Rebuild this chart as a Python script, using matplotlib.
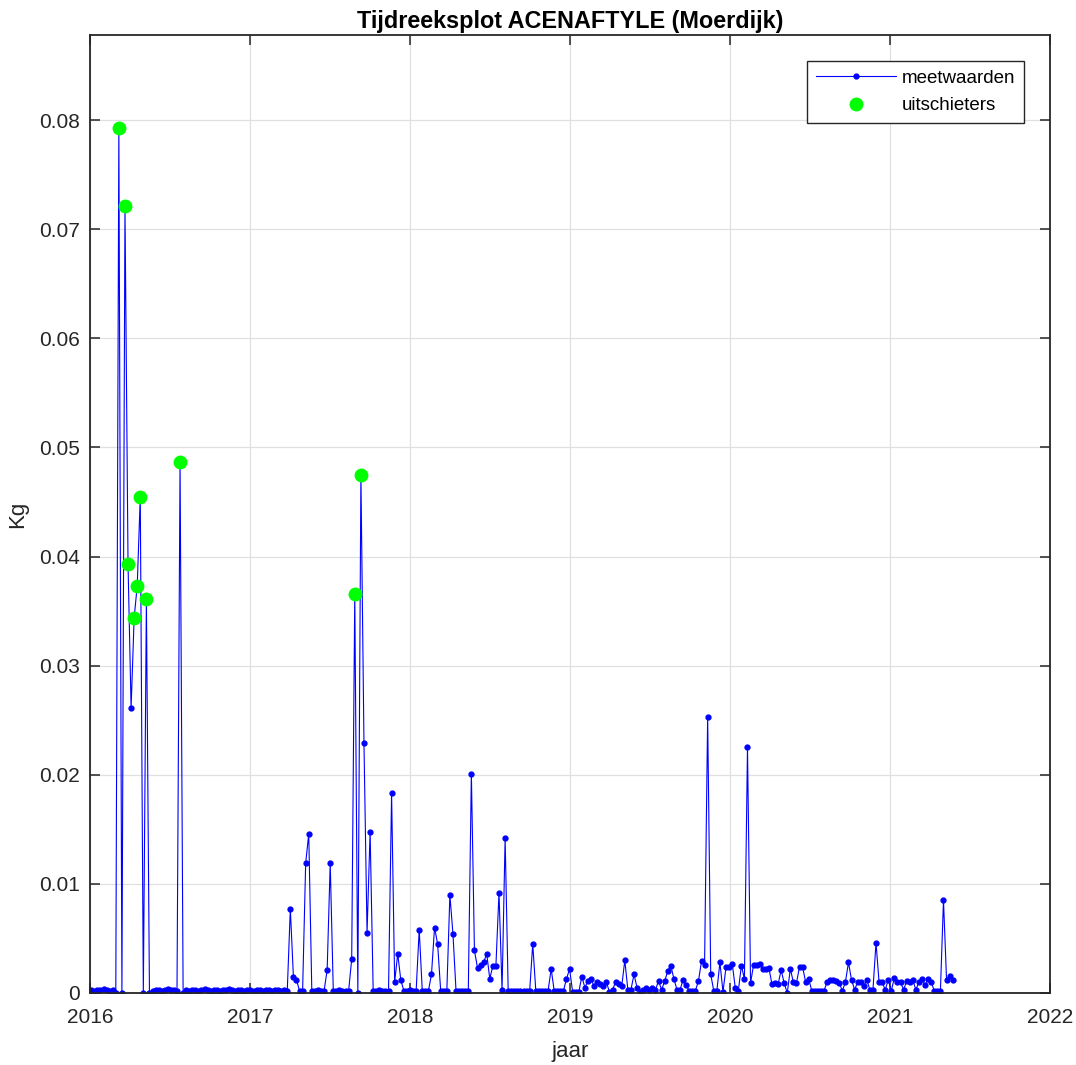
import numpy as np
import pandas as pd
import matplotlib
matplotlib.use('Agg')
import matplotlib.pyplot as plt
from matplotlib.ticker import FuncFormatter

# weekly measurements (Kg), first sample in week of 2016-01-04
start_datum = '2016-01-04'

waarden_2016 = [0.0003, 0.0002, 0.0003, 0.0003, 0.0004, 0.0003, 0.0002, 0.0003, 0.0000, 0.0793,
                0.0000, 0.0721, 0.0393, 0.0261, 0.0344, 0.0373, 0.0455, 0.0000, 0.0361, 0.0000,
                0.0002, 0.0003, 0.0003, 0.0002, 0.0003, 0.0004, 0.0003, 0.0003, 0.0002, 0.0487,
                0.0000, 0.0003, 0.0002, 0.0003, 0.0003, 0.0002, 0.0003, 0.0004, 0.0003, 0.0002,
                0.0003, 0.0003, 0.0002, 0.0003, 0.0003, 0.0004, 0.0003, 0.0002, 0.0003, 0.0003,
                0.0002, 0.0003]
waarden_2017 = [0.0003, 0.0002, 0.0003, 0.0003, 0.0002, 0.0003, 0.0003, 0.0002,
                0.0003, 0.0003, 0.0002, 0.0003, 0.0002, 0.0077, 0.0015, 0.0012, 0.0002, 0.0002,
                0.0119, 0.0146, 0.0002, 0.0002, 0.0003, 0.0002, 0.0002, 0.0021, 0.0119, 0.0002,
                0.0002, 0.0003, 0.0002, 0.0002, 0.0002, 0.0031, 0.0366, 0.0000, 0.0475, 0.0229,
                0.0055, 0.0148, 0.0002, 0.0002, 0.0003, 0.0002, 0.0002, 0.0002, 0.0183, 0.0010,
                0.0036, 0.0012, 0.0002, 0.0002]
waarden_2018 = [0.0003, 0.0002, 0.0002, 0.0058, 0.0002, 0.0002,
                0.0002, 0.0017, 0.0060, 0.0045, 0.0002, 0.0002, 0.0002, 0.0090, 0.0054, 0.0002,
                0.0002, 0.0002, 0.0002, 0.0002, 0.0201, 0.0039, 0.0023, 0.0026, 0.0028, 0.0036,
                0.0013, 0.0025, 0.0025, 0.0092, 0.0003, 0.0142, 0.0002, 0.0002, 0.0002, 0.0002,
                0.0002, 0.0002, 0.0002, 0.0002, 0.0045, 0.0002, 0.0002, 0.0002, 0.0002, 0.0002,
                0.0022, 0.0002, 0.0002, 0.0002, 0.0002, 0.0013, 0.0022]
waarden_2019 = [0.0001, 0.0001, 0.0001,
                0.0015, 0.0005, 0.0011, 0.0013, 0.0006, 0.0010, 0.0008, 0.0006, 0.0010, 0.0001,
                0.0003, 0.0010, 0.0008, 0.0006, 0.0030, 0.0003, 0.0003, 0.0017, 0.0005, 0.0001,
                0.0003, 0.0005, 0.0003, 0.0005, 0.0003, 0.0011, 0.0003, 0.0011, 0.0020, 0.0025,
                0.0013, 0.0003, 0.0003, 0.0012, 0.0007, 0.0002, 0.0002, 0.0002, 0.0011, 0.0029,
                0.0026, 0.0253, 0.0017, 0.0002, 0.0002, 0.0028, 0.0001, 0.0024, 0.0024]
waarden_2020 = [0.0027,
                0.0005, 0.0002, 0.0025, 0.0013, 0.0225, 0.0009, 0.0026, 0.0026, 0.0027, 0.0022,
                0.0022, 0.0023, 0.0008, 0.0009, 0.0008, 0.0021, 0.0009, 0.0000, 0.0022, 0.0010,
                0.0009, 0.0024, 0.0024, 0.0010, 0.0013, 0.0002, 0.0002, 0.0002, 0.0002, 0.0002,
                0.0010, 0.0012, 0.0012, 0.0011, 0.0009, 0.0002, 0.0010, 0.0028, 0.0012, 0.0003,
                0.0010, 0.0010, 0.0006, 0.0012, 0.0003, 0.0003, 0.0046, 0.0010, 0.0010, 0.0003,
                0.0012]
waarden_2021 = [0.0002, 0.0014, 0.0010, 0.0010, 0.0003, 0.0011, 0.0010, 0.0012, 0.0003,
                0.0010, 0.0013, 0.0007, 0.0013, 0.0010, 0.0002, 0.0002, 0.0002, 0.0085, 0.0012,
                0.0016, 0.0012]

# values flagged as outliers (green dots)
uitschieter_grens = 0.03

meet = np.array(waarden_2016 + waarden_2017 + waarden_2018 +
                waarden_2019 + waarden_2020 + waarden_2021)
datums = pd.date_range(start_datum, periods=len(meet), freq='7D')
jaar = datums.year + (datums.dayofyear - 1) / np.where(datums.is_leap_year, 366, 365)
jaar = np.asarray(jaar, dtype=float)
uit = meet > uitschieter_grens

plt.rcParams['font.family'] = ['Liberation Sans', 'DejaVu Sans']
fig = plt.figure(figsize=(10.76, 10.65), dpi=100)
ax = fig.add_axes([90/1076, 72/1065, 960/1076, 958/1065])

ax.plot(jaar, meet, '-', color=(0, 0, 1), lw=0.8, marker='o', ms=3.5,
        mec=(0, 0, 1), mfc=(0, 0, 1), label='meetwaarden')
ax.plot(jaar[uit], meet[uit], 'o', color=(0, 1, 0), ms=10, mec='none',
        label='uitschieters')

ax.set_xlim(2016, 2022)
ax.set_ylim(0, 0.0878)
ax.set_xticks(np.arange(2016, 2023, 1))
ax.set_yticks(np.arange(0, 0.081, 0.01))
ax.yaxis.set_major_formatter(FuncFormatter(lambda v, p: '%g' % round(v, 4)))

ax.grid(True, color='#e0e0e0', lw=0.9)
ax.set_axisbelow(True)
dark = (0.15, 0.15, 0.15)
for s in ax.spines.values():
    s.set_color(dark)
    s.set_linewidth(1.3)
ax.tick_params(direction='in', length=7, width=1.1, colors=dark, labelsize=15,
               top=True, right=True)
ax.tick_params(axis='x', pad=11)
ax.tick_params(axis='y', pad=7)

ax.set_title('Tijdreeksplot ACENAFTYLE (Moerdijk)', fontsize=16.8, fontweight='bold',
             pad=5)
ax.set_xlabel('jaar', fontsize=16, color=dark, labelpad=10)
ax.set_ylabel('Kg', fontsize=16, color=dark, labelpad=8)

leg = ax.legend(loc='upper right', fontsize=13.5, frameon=True, fancybox=False,
                framealpha=1, edgecolor=dark, borderaxespad=1.4, handlelength=4.3,
                handletextpad=0.3, borderpad=0.45, labelspacing=0.55, numpoints=1)
leg.get_frame().set_linewidth(1.0)

fig.savefig('out.png', dpi=100)
